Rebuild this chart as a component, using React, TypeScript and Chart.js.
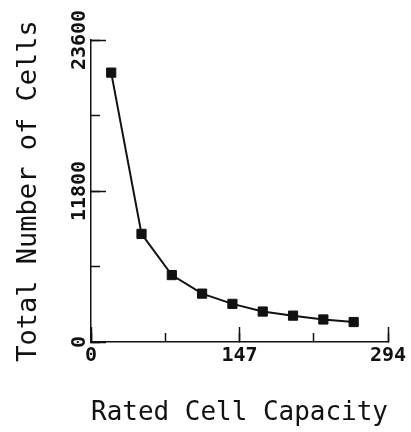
import React, { useEffect, useRef } from "react";
import { Chart, registerables } from "chart.js";

Chart.register(...registerables);

// Data
const capacities = [20, 50, 80, 110, 140, 170, 200, 230, 260];
const totalCells = [21050, 8450, 5230, 3780, 2980, 2380, 2060, 1760, 1560];

const xMax = 294;
const xMajorStep = 147;
const xMinorStep = 73.5;
const yMax = 23600;
const yMajorStep = 11800;
const yMinorStep = 5900;

const xTitle = "Rated Cell Capacity";
const yTitle = "Total Number of Cells";

export default function App() {
  const ref = useRef<HTMLCanvasElement>(null);

  useEffect(() => {
    const ink = "#111";
    const family = "'DejaVu Sans Mono', monospace";
    const tickFont = { family, size: 20, weight: "bold" as const };
    const titleFont = { family, size: 27 };

    const chart = new Chart(ref.current as HTMLCanvasElement, {
      type: "line",
      data: {
        datasets: [
          {
            data: capacities.map((x, i) => ({ x, y: totalCells[i] })),
            borderColor: ink,
            borderWidth: 2,
            backgroundColor: ink,
            pointStyle: "rect",
            pointRadius: 6.5,
            pointBorderWidth: 1,
            pointBorderColor: ink,
            pointBackgroundColor: ink,
            tension: 0,
            xAxisID: "x",
            yAxisID: "y",
          },
        ],
      },
      options: {
        animation: false,
        responsive: true,
        maintainAspectRatio: false,
        events: [],
        layout: { padding: { top: 40, right: 23, bottom: 0, left: 0 } },
        plugins: {
          legend: { display: false },
          tooltip: { enabled: false },
        },
        scales: {
          x: {
            type: "linear",
            position: "bottom",
            min: 0,
            max: xMax,
            ticks: {
              stepSize: xMajorStep,
              font: tickFont,
              color: ink,
              padding: 17,
              maxRotation: 0,
              autoSkip: false,
              callback: (v: any) => String(v),
            },
            grid: {
              drawOnChartArea: false,
              tickLength: -15,
              tickWidth: 1.5,
              tickColor: ink,
            },
            border: { color: ink, width: 1.5 },
            title: {
              display: true,
              text: xTitle,
              font: titleFont,
              color: ink,
              padding: { top: 0, bottom: 3 },
            },
            afterFit: (s: any) => {
              s.height = 90;
              s.paddingLeft = 0;
              s.paddingRight = 0;
            },
          },
          xMinor: {
            type: "linear",
            position: "bottom",
            weight: -1,
            min: 0,
            max: xMax,
            ticks: { stepSize: xMinorStep, display: false },
            grid: {
              drawOnChartArea: false,
              tickLength: -9,
              tickWidth: 1.5,
              tickColor: ink,
            },
            border: { display: false },
            afterFit: (s: any) => {
              s.height = 0;
              s.paddingLeft = 0;
              s.paddingRight = 0;
            },
          },
          y: {
            type: "linear",
            position: "left",
            min: 0,
            max: yMax,
            ticks: {
              stepSize: yMajorStep,
              font: tickFont,
              color: ink,
              padding: -4,
              minRotation: 90,
              maxRotation: 90,
              crossAlign: "center",
              autoSkip: false,
              callback: (v: any) => String(v),
            },
            grid: {
              drawOnChartArea: false,
              tickLength: -15,
              tickWidth: 1.5,
              tickColor: ink,
            },
            border: { color: ink, width: 1.5 },
            title: {
              display: true,
              text: yTitle,
              font: titleFont,
              color: ink,
              padding: { top: 13, bottom: 0 },
            },
            afterFit: (s: any) => {
              s.width = 91;
              s.paddingTop = 0;
              s.paddingBottom = 0;
            },
          },
          yMinor: {
            type: "linear",
            position: "left",
            weight: -1,
            min: 0,
            max: yMax,
            ticks: { stepSize: yMinorStep, display: false },
            grid: {
              drawOnChartArea: false,
              tickLength: -9,
              tickWidth: 1.5,
              tickColor: ink,
            },
            border: { display: false },
            afterFit: (s: any) => {
              s.width = 0;
              s.paddingTop = 0;
              s.paddingBottom = 0;
            },
          },
        },
      } as any,
    });

    return () => chart.destroy();
  }, []);

  return (
    <div
      style={{
        position: "absolute",
        left: 0,
        top: 0,
        width: 411,
        height: 432,
        background: "#fff",
      }}
    >
      <canvas ref={ref} />
    </div>
  );
}
